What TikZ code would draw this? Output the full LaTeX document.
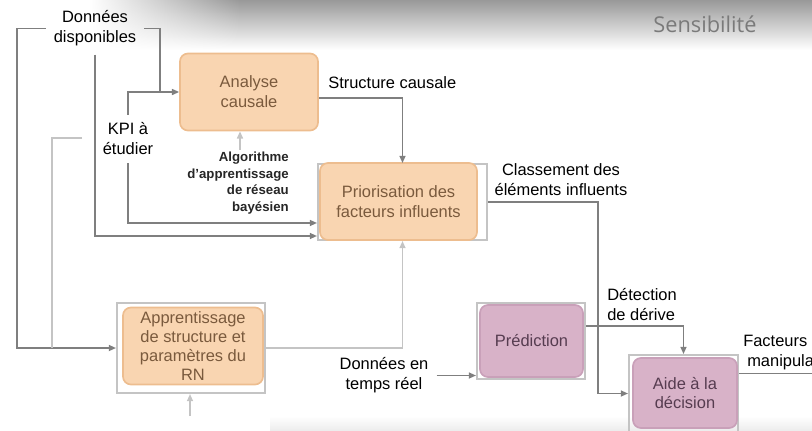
\documentclass[tikz,border=0pt]{standalone}
\usepackage{fontspec}
\setmainfont{Liberation Sans}
\newfontfamily\headfont{Open Sans}
\usepackage{tikz}
\usetikzlibrary{arrows.meta,positioning,fadings}

\definecolor{peach}{HTML}{F9D5B1}
\definecolor{peachedge}{HTML}{EDBD8F}
\definecolor{peachtext}{HTML}{7A5A3D}
\definecolor{mauve}{HTML}{D8B2C8}
\definecolor{mauveedge}{HTML}{C9A0B9}
\definecolor{mauvetext}{HTML}{563C50}
\definecolor{wire}{HTML}{7F7F7F}
\definecolor{wirelight}{HTML}{C4C4C4}

\tikzfading[name=bandfade, left color=transparent!0, right color=transparent!100]

\begin{document}
\begin{tikzpicture}[x=0.025cm,y=-0.025cm,
  >={Triangle[length=0.18cm,width=0.15cm]},
  txt/.style={font=\fontsize{11.7}{14.2}\selectfont, align=center, inner sep=0.2cm},
  peachbox/.style={txt, rectangle, rounded corners=0.2cm, fill=peach, draw=peachedge, line width=1.2pt, text=peachtext},
  mauvebox/.style={txt, rectangle, rounded corners=0.2cm, fill=mauve, draw=mauveedge, line width=1.2pt, text=mauvetext},
  frame/.style={rectangle, draw=wirelight, line width=1.4pt, inner sep=0pt},
  algo/.style={font=\fontsize{9.4}{11.9}\selectfont\bfseries, align=right, inner sep=0.2cm, text=black!85},
  link/.style={draw=wire, line width=1.1pt},
  faintlink/.style={draw=wirelight, line width=1.1pt}]

\clip (0,0) rectangle (812,430);

% Header band and bottom strip
\shade[top color=black!40, middle color=black!13, bottom color=white] (0,0) rectangle (812,50);
\fill[white] (0,0) rectangle (90,50);
\fill[white, path fading=bandfade] (90,0) rectangle (240,50);
\shade[top color=white, bottom color=black!7] (270,416) rectangle (812,430);
\node[font=\headfont\fontsize{15.5}{18}\selectfont, text=black!52] (sens) at (705,24) {Sensibilité};

% Process boxes
\node[peachbox, minimum width=3.45cm, minimum height=1.925cm] (analyse) at (249,92) {Analyse\\causale};

\node[frame, minimum width=4.225cm, minimum height=1.9cm] (priorframe) at (402.5,202) {};
\node[peachbox, minimum width=3.925cm, minimum height=1.925cm] (prior) at (398.5,201.5) {Priorisation des\\facteurs influents};

\node[frame, minimum width=3.7cm, minimum height=2.25cm] (apprframe) at (191,348) {};
\node[peachbox, font=\fontsize{11.7}{13.5}\selectfont, inner ysep=0.04cm, minimum width=3.5cm, minimum height=1.925cm] (appr) at (193,346) {Apprentissage\\de structure et\\paramètres du\\RN};

\node[frame, minimum width=2.7cm, minimum height=1.9cm] (predframe) at (531,341) {};
\node[mauvebox, minimum width=2.575cm, minimum height=1.8cm] (pred) at (531.5,341) {Prédiction};

\node[frame, minimum width=2.725cm, minimum height=1.925cm] (aideframe) at (683.5,393.5) {};
\node[mauvebox, minimum width=2.6cm, minimum height=1.75cm] (aide) at (685,393) {Aide à la\\décision};

% Labels
\node[txt] (donnees) at (95,28.5) {Données\\disponibles};
\node[txt] (kpi) at (128,139) {KPI à\\étudier};
\node[txt, anchor=west] (structure) at (320,83) {Structure causale};
\node[algo, anchor=east] (algotxt) at (297,183) {Algorithme\\d'apprentissage\\de réseau\\bayésien};
\node[txt] (classement) at (561,180) {Classement des\\éléments influents};
\node[txt, align=left, anchor=west] (detection) at (599,305) {Détection\\de dérive};
\node[txt] (donneesrt) at (384,375.5) {Données en\\temps réel};
\node[txt, align=left, anchor=west] (facteurs) at (735,352.5) {Facteurs\\\hspace{0.1cm}manipulables};

% Corners of the feeds
\coordinate (joinA) at (160,92);
\coordinate (railA) at (17,348);
\coordinate (kpiTap) at (82,138);
\coordinate (railB) at (52,348);
\coordinate (algoTip) at (240,150);
\coordinate (apprIn) at (190,416);
\coordinate (turnC) at (598,300);

% Feeds into the analysis
\draw[link,->] (donnees.west) -| (railA) -- (apprframe.west);
\draw[faintlink] (kpiTap) -| (railB);
\draw[link] (kpi.north) |- (joinA);
\draw[link,->] (donnees.east) -| (joinA) -- (analyse.west);
\draw[link,->] (donnees.south) |- ([yshift=0.125cm]priorframe.south west);
\draw[link,->] (kpi.south) |- ([yshift=0.45cm]priorframe.south west);
\draw[faintlink,->] (algoTip) -- (algoTip |- analyse.south);
\draw[link,->] ([yshift=-0.15cm]analyse.east) -| (priorframe.north);
\draw[faintlink,->] (apprframe.east) -| (priorframe.south);
\draw[faintlink,->] (apprIn) -- (apprIn |- apprframe.south);

% Decision part
\draw[link,->] (priorframe.east) -| (turnC) |- (aideframe.west);
\draw[link,->] ([yshift=0.375cm]predframe.east) -| (aideframe.north);
\draw[link,->] (donneesrt.east) -- (donneesrt.east -| predframe.west);
\draw[link] ([yshift=0.5cm]aideframe.east) -- +(90,0);
\end{tikzpicture}
\end{document}
